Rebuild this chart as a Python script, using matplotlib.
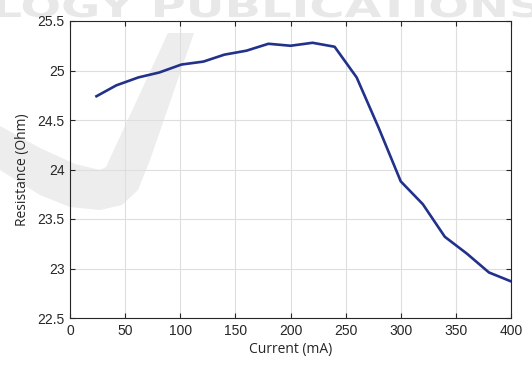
import matplotlib
matplotlib.use("Agg")
import matplotlib.pyplot as plt
from matplotlib.textpath import TextPath
from matplotlib.patches import PathPatch, Polygon
from matplotlib.font_manager import FontProperties
from matplotlib.transforms import Affine2D, IdentityTransform

# Data
current_ma = [24, 42, 62, 81, 101, 121, 140, 160, 180, 200,
              220, 240, 260, 280, 300, 320, 340, 360, 380, 400]
resistance_ohm = [24.74, 24.85, 24.93, 24.98, 25.06, 25.09, 25.16, 25.20, 25.27, 25.25,
                  25.28, 25.24, 24.93, 24.42, 23.88, 23.65, 23.32, 23.15, 22.96, 22.87]
x_ticks = [0, 50, 100, 150, 200, 250, 300, 350, 400]
y_ticks = [22.5, 23, 23.5, 24, 24.5, 25, 25.5]
y_tick_labels = ["22.5", "23", "23.5", "24", "24.5", "25", "25.5"]
watermark = "LOGY PUBLICATIONS"

W, H = 532, 365
DPI = 100
fig = plt.figure(figsize=(W / DPI, H / DPI), dpi=DPI)
fig.patch.set_facecolor("white")

# Watermark (decorative background)
tp = TextPath((0, 0), watermark, size=100,
              prop=FontProperties(family="DejaVu Sans", weight="bold"))
ext = tp.get_extents()
target_left, target_right = -4, 540
cap_h = 23
sx = (target_right - target_left) / ext.width
sy = cap_h / 73.0
tr = Affine2D().translate(-ext.x0, 0).scale(sx, sy).translate(target_left, H - 17)
fig.patches.append(PathPatch(tr.transform_path(tp), facecolor="#e8e8e8",
                             edgecolor="none", transform=IdentityTransform(),
                             zorder=-5))

def px(pts):
    return [(x, H - y) for x, y in pts]

swoosh = px([(168, 33), (194, 33), (150, 160), (138, 190), (122, 205), (100, 210),
             (70, 207), (40, 195), (0, 170), (0, 126), (40, 148), (75, 164),
             (100, 170), (106, 167)])
fig.patches.append(Polygon(swoosh, closed=True, facecolor="#ededed",
                           edgecolor="none", transform=IdentityTransform(),
                           zorder=-5))

left, right, top, bottom = 70, 511, 21, 318
ax = fig.add_axes([left / W, (H - bottom) / H, (right - left) / W, (bottom - top) / H])
ax.set_facecolor("none")

ax.plot(current_ma, resistance_ohm, color="#22318a", linewidth=1.9, zorder=3,
        solid_joinstyle="round")

ax.set_xlim(0, 400)
ax.set_ylim(22.5, 25.5)
ax.set_xticks(x_ticks)
ax.set_yticks(y_ticks)
ax.set_yticklabels(y_tick_labels)
ax.grid(True, color="#dedede", linewidth=0.8)
ax.set_axisbelow(True)

spine_c = "#262626"
for s in ax.spines.values():
    s.set_color(spine_c)
    s.set_linewidth(0.8)
ax.tick_params(direction="in", top=True, right=True, length=3.5, width=0.8,
               color=spine_c, labelcolor=spine_c, labelsize=10, pad=4)
for lab in ax.get_xticklabels() + ax.get_yticklabels():
    lab.set_family("Liberation Sans")

ax.set_xlabel("Current (mA)", family="Open Sans", fontsize=10, color="#262626", labelpad=3)
ax.set_ylabel("Resistance (Ohm)", family="Open Sans", fontsize=10, color="#262626", labelpad=5)

fig.savefig("out.png", dpi=DPI)
